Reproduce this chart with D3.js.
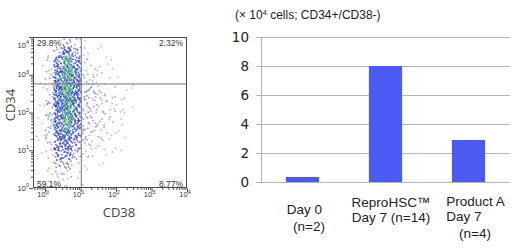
<!DOCTYPE html>
<html><head><meta charset="utf-8">
<script src="https://cdn.jsdelivr.net/npm/d3@7"></script>
<style>body{margin:0;background:#fff}svg{display:block}</style>
</head><body><svg id="c" width="515" height="249"></svg>
<script>
// ================= DATA =================
// Bar chart
const barCategories = ["Day 0 (n=2)", "ReproHSC™ Day 7 (n=14)", "Product A Day 7 (n=4)"];
const barLabelLines = [["Day 0", "(n=2)"], ["ReproHSC™", "Day 7 (n=14)"], ["Product A", "Day 7", "(n=4)"]];
const barValues = [0.35, 8.0, 2.9];
const barTicks = [0, 2, 4, 6, 8, 10];
const barTitle = "(× 10|4| cells; CD34+/CD38-)";

// Flow cytometry dot plot (CD38 vs CD34)
const quadrantLabels = ["29.8%", "2.32%", "59.1%", "8.77%"]; // UL, UR, LL, LR
const logTickExponents = [0, 1, 2, 3, 4];
const gateCD38 = 10.5;
const gateCD34 = 570;
// density of events per cell
const densityXStarts = [-0.25, 0, 0.25, 0.5, 0.75, 1.0, 1.25, 1.5, 1.75, 2.0, 2.25]; // log10 CD38
const densityYStarts = [3.75, 3.5, 3.25, 3.0, 2.75, 2.5, 2.25, 2.0, 1.75, 1.5, 1.25, 1.0, 0.75, 0.5, 0.25, 0.0]; // log10 CD34
const densityCounts = [
  [0, 0, 2, 8, 4, 1, 0, 0, 0, 0, 0],
  [1, 1, 9, 22, 11, 2, 1, 1, 0, 0, 0],
  [1, 3, 20, 38, 20, 3, 1, 1, 1, 0, 0],
  [1, 4, 26, 44, 26, 3, 2, 2, 1, 0, 0],
  [1, 5, 29, 45, 28, 5, 3, 2, 1, 1, 0],
  [1, 5, 31, 45, 30, 6, 5, 4, 2, 1, 1],
  [1, 6, 32, 45, 30, 7, 5, 4, 3, 2, 1],
  [1, 6, 31, 45, 28, 7, 5, 4, 3, 2, 1],
  [1, 5, 29, 42, 26, 6, 5, 4, 3, 2, 0],
  [1, 5, 27, 36, 22, 6, 5, 4, 3, 1, 0],
  [1, 4, 24, 30, 17, 5, 4, 3, 2, 1, 0],
  [1, 4, 20, 24, 13, 4, 3, 2, 1, 1, 0],
  [1, 3, 14, 16, 8, 3, 2, 1, 1, 0, 0],
  [1, 2, 9, 10, 4, 2, 1, 1, 0, 0, 0],
  [0, 1, 4, 4, 2, 1, 1, 0, 0, 0, 0],
  [1, 1, 2, 2, 1, 1, 0, 0, 0, 0, 0]
];
const densityBinWidth = 0.25;

// ================= DRAW =================
const svg = d3.select("#c");

// ---------- Dot plot ----------
const P = {l: 33, r: 187, t: 37, b: 188};
const xS = d3.scaleLog().domain([Math.pow(10, -0.34), 1e4]).range([P.l, P.r]);
const yS = d3.scaleLog().domain([1, 1e4]).range([P.b, P.t]);

const dotColor = d3.scaleLinear()
  .domain([1, 6, 16, 30, 45])
  .range(["#aab0e6", "#7780de", "#4050cc", "#2f40b6", "#2c4fb4"])
  .clamp(true);

// Halton sequence (layout only: spreads each cell's events evenly, no randomness)
function halton(i, b) { let f = 1, r = 0; while (i > 0) { f /= b; r += f * (i % b); i = Math.floor(i / b); } return r; }

const nCols = densityXStarts.length, nRows = densityYStarts.length;
const maxCount = d3.max(densityCounts.flat());
const x0 = densityXStarts[0], y0 = densityYStarts[nRows - 1];
const spanX = nCols * densityBinWidth, spanY = nRows * densityBinWidth;
const dots = [];
const nCand = maxCount * nCols * nRows;
for (let i = 1; i <= nCand; i++) {
  const u = halton(i, 2), v = halton(i, 3), w = halton(i, 5);
  const ci = Math.min(nCols - 1, Math.floor(u * nCols));
  const rFromBottom = Math.min(nRows - 1, Math.floor(v * nRows));
  const ri = nRows - 1 - rFromBottom;
  const n = densityCounts[ri][ci];
  if (w >= n / maxCount) continue;
  let c = dotColor(n);
  const h = halton(i, 7);
  if (n >= 36) c = h < 0.45 ? "#66cc62" : (h < 0.7 ? "#3f9abf" : "#2c45b4");
  else if (n >= 26 && h < 0.25) c = "#4596c4";
  dots.push({x: Math.pow(10, x0 + u * spanX), y: Math.pow(10, y0 + v * spanY), c});
}

const plot = svg.append("g");
plot.append("clipPath").attr("id", "pc").append("rect")
  .attr("x", P.l).attr("y", P.t).attr("width", P.r - P.l).attr("height", P.b - P.t);
plot.append("g").attr("clip-path", "url(#pc)")
  .selectAll("circle").data(dots).join("circle")
  .attr("cx", d => xS(d.x)).attr("cy", d => yS(d.y))
  .attr("r", 0.9).attr("fill", d => d.c).attr("opacity", 0.85);

// gates
plot.append("line").attr("x1", xS(gateCD38)).attr("x2", xS(gateCD38))
  .attr("y1", P.t).attr("y2", P.b).attr("stroke", "#7a7a7a").attr("stroke-width", 1);
plot.append("line").attr("x1", P.l).attr("x2", P.r)
  .attr("y1", yS(gateCD34)).attr("y2", yS(gateCD34)).attr("stroke", "#7a7a7a").attr("stroke-width", 1);
// frame
plot.append("rect").attr("x", P.l + 0.5).attr("y", P.t + 0.5)
  .attr("width", P.r - P.l - 1).attr("height", P.b - P.t - 1)
  .attr("fill", "none").attr("stroke", "#4a4a4a").attr("stroke-width", 1);

// minor + major ticks
const minorVals = [];
for (let e = -1; e < 4; e++) for (let m = 1; m < 10; m++) minorVals.push(m * Math.pow(10, e));
minorVals.push(1e4);
const isMajor = d => Math.abs(Math.log10(d) - Math.round(Math.log10(d))) < 1e-9;
const xDom = xS.domain();
plot.append("g").selectAll("line").data(minorVals.filter(v => v >= xDom[0] && v <= xDom[1])).join("line")
  .attr("x1", d => xS(d) + 0.5).attr("x2", d => xS(d) + 0.5)
  .attr("y1", P.b).attr("y2", d => P.b + (isMajor(d) ? 4 : 2))
  .attr("stroke", "#555");
plot.append("g").selectAll("line").data(minorVals.filter(v => v >= 1 && v <= 1e4)).join("line")
  .attr("y1", d => yS(d) + 0.5).attr("y2", d => yS(d) + 0.5)
  .attr("x1", P.l).attr("x2", d => P.l - (isMajor(d) ? 4 : 2))
  .attr("stroke", "#555");

const tickFont = "'Liberation Sans', Arial, sans-serif";
// x tick labels
const xl = plot.append("g").selectAll("text").data(logTickExponents).join("text")
  .attr("x", e => xS(Math.pow(10, e)) - 2).attr("y", 197)
  .attr("text-anchor", "middle").attr("font-family", tickFont)
  .attr("font-size", 7.5).attr("fill", "#333");
xl.append("tspan").text("10");
xl.append("tspan").attr("dy", -3.5).attr("font-size", 5.5).text(e => e);
// y tick labels
const yl = plot.append("g").selectAll("text").data(logTickExponents).join("text")
  .attr("x", 29).attr("y", e => Math.max(yS(Math.pow(10, e)), 45) + 2.5)
  .attr("text-anchor", "end").attr("font-family", tickFont)
  .attr("font-size", 7.5).attr("fill", "#333");
yl.append("tspan").text("10");
yl.append("tspan").attr("dy", -3.5).attr("font-size", 5.5).text(e => e);

// axis titles
const axFont = "'Open Sans', 'Noto Sans', sans-serif";
plot.append("text").attr("x", 119).attr("y", 217).attr("text-anchor", "middle")
  .attr("font-family", axFont).attr("font-size", 13).attr("fill", "#444").text("CD38");
plot.append("text").attr("transform", "translate(15,105) rotate(-90)").attr("text-anchor", "middle")
  .attr("font-family", axFont).attr("font-size", 13).attr("fill", "#444").text("CD34");

// quadrant labels
const qPos = [
  {x: P.l + 4, y: 46, a: "start"}, {x: P.r - 4, y: 46, a: "end"},
  {x: P.l + 4, y: 186.5, a: "start"}, {x: P.r - 4, y: 186.5, a: "end"}
];
plot.append("g").selectAll("text").data(quadrantLabels).join("text")
  .attr("x", (d, i) => qPos[i].x).attr("y", (d, i) => qPos[i].y)
  .attr("text-anchor", (d, i) => qPos[i].a)
  .attr("font-family", tickFont).attr("font-size", 8.5).attr("fill", "#333").text(d => d);

// ---------- Bar chart ----------
const B = {l: 261, r: 510, t: 37, b: 182};
const bx = d3.scaleBand().domain(barCategories).range([B.l, B.r]).paddingInner(0.6).paddingOuter(0.3);
const by = d3.scaleLinear().domain([0, 10]).range([B.b, B.t]);
const bar = svg.append("g");

bar.append("g").selectAll("line").data(barTicks).join("line")
  .attr("x1", B.l - 5).attr("x2", B.r).attr("y1", d => Math.round(by(d)) + 0.5).attr("y2", d => Math.round(by(d)) + 0.5)
  .attr("stroke", "#b4b4b4").attr("stroke-width", 1);
bar.append("line").attr("x1", B.l + 0.5).attr("x2", B.l + 0.5).attr("y1", B.t).attr("y2", B.b)
  .attr("stroke", "#b4b4b4");
bar.append("g").selectAll("text").data(barTicks).join("text")
  .attr("x", 249).attr("y", d => by(d) + 5).attr("text-anchor", "end")
  .attr("font-family", "'DejaVu Sans', Verdana, sans-serif").attr("font-size", 13.5)
  .attr("fill", "#222").text(d => d);

bar.append("g").selectAll("rect").data(barValues).join("rect")
  .attr("x", (d, i) => bx(barCategories[i])).attr("width", bx.bandwidth())
  .attr("y", d => by(d)).attr("height", d => by(0) - by(d))
  .attr("fill", "#4a5af2");

// category labels (layout offsets relative to band centre)
const lineLayout = [
  [{dx: 2, y: 213.5}, {dx: 6.5, y: 230.5}],
  [{dx: 5.5, y: 206.5}, {dx: 5.5, y: 221.5}],
  [{dx: 7, y: 206}, {dx: -4.5, y: 221}, {dx: 6.5, y: 237.5}]
];
barLabelLines.forEach((lines, i) => {
  const cx = bx(barCategories[i]) + bx.bandwidth() / 2;
  lines.forEach((t, j) => {
    bar.append("text").attr("x", cx + lineLayout[i][j].dx).attr("y", lineLayout[i][j].y)
      .attr("text-anchor", "middle").attr("font-family", "'Liberation Sans', Arial, sans-serif")
      .attr("font-size", 13.5).attr("fill", "#222").text(t);
  });
});

// title with superscript
const tp = barTitle.split("|");
const tt = bar.append("text").attr("x", 235).attr("y", 19)
  .attr("font-family", "'Liberation Sans', Arial, sans-serif").attr("font-size", 12).attr("fill", "#222");
tt.append("tspan").text(tp[0]);
tt.append("tspan").attr("dy", -4).attr("font-size", 7.5).text(tp[1]);
tt.append("tspan").attr("dy", 4).text(tp[2]);
</script>
</body></html>
